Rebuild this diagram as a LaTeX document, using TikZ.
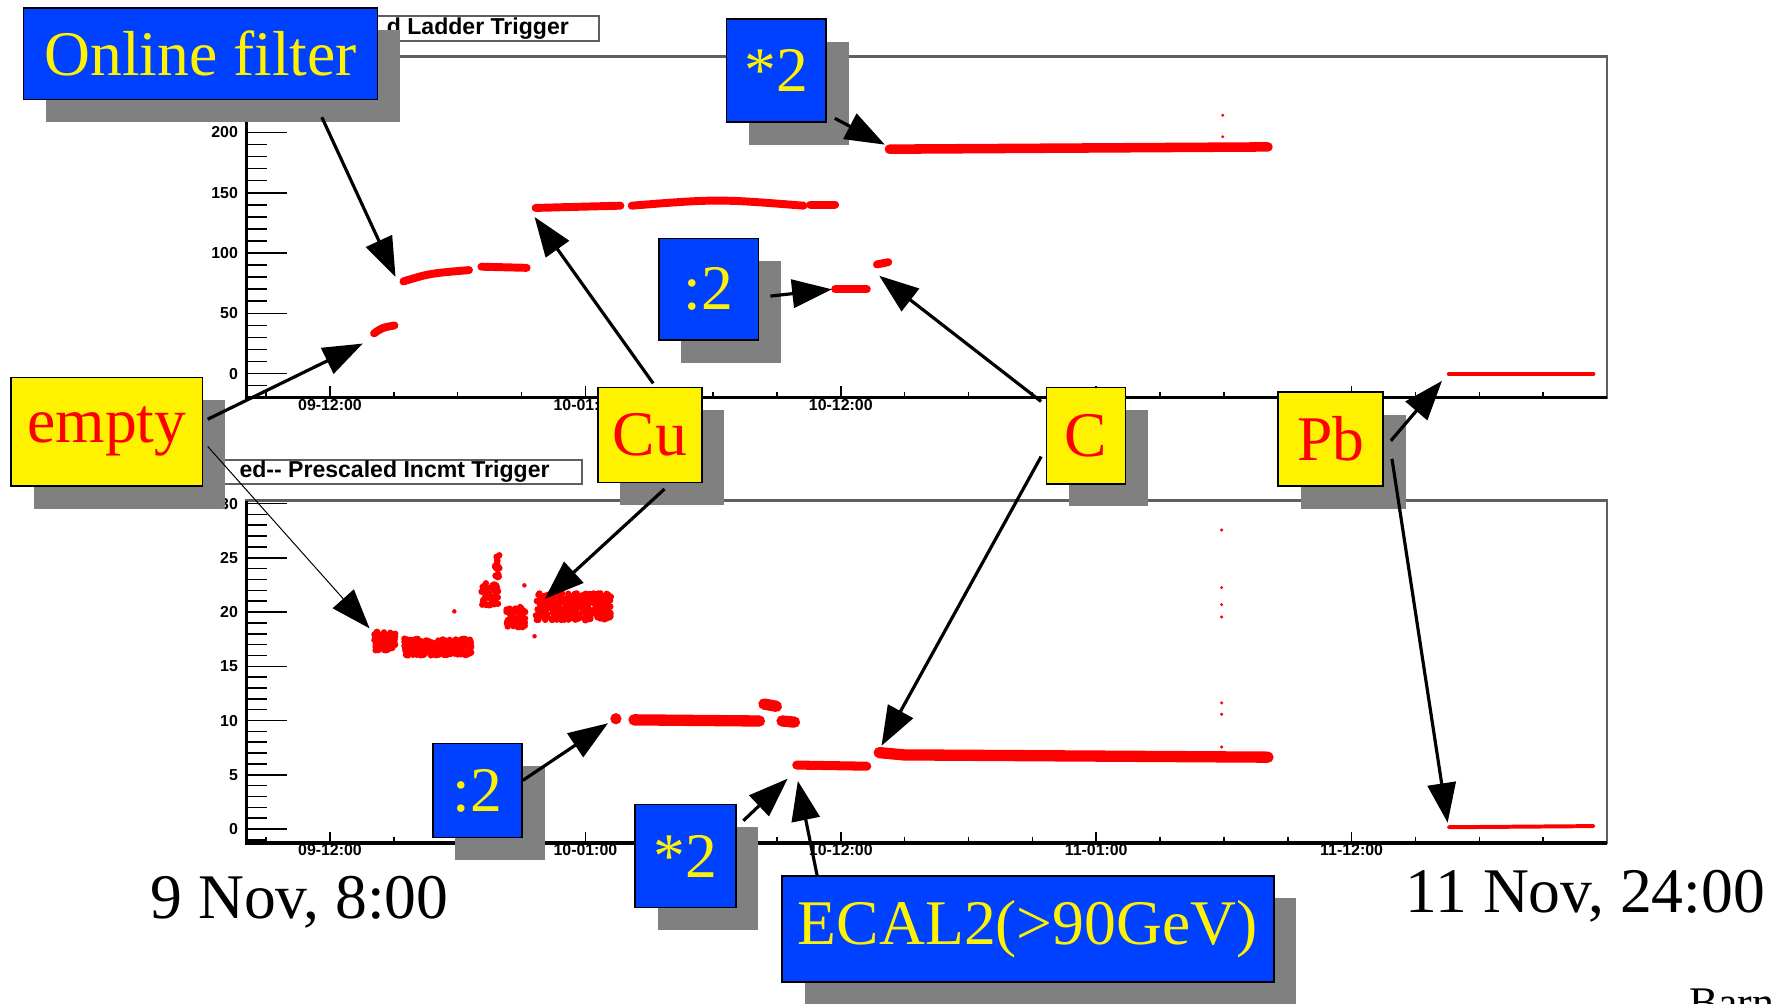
\documentclass[tikz,border=0pt]{standalone}
\usepackage{fontspec}
\setmainfont{Liberation Serif}
\setsansfont{Liberation Sans}
\usetikzlibrary{arrows.meta, shadows, calc}

\definecolor{boxblue}{RGB}{0,64,255}
\definecolor{shadowgray}{RGB}{128,128,128}
\definecolor{framegray}{RGB}{95,95,95}

\tikzset{
  lbl/.style={draw=black, line width=0.4pt, inner sep=0pt, font=\fontsize{16}{18}\selectfont,
    drop shadow={shadow xshift=0.2cm, shadow yshift=-0.2cm, fill=shadowgray, opacity=1}},
  bluebox/.style={lbl, fill=boxblue, text=yellow},
  yellowbox/.style={lbl, fill=yellow, text=red},
  pointer/.style={line width=0.8pt, -{Triangle[length=0.35cm, width=0.25cm]}},
  thinpointer/.style={line width=0.25pt, -{Triangle[length=0.35cm, width=0.25cm]}},
  band/.style={red, line width=#1, line cap=round},
  band/.default=2pt,
  ticklbl/.style={font=\fontsize{4}{4}\sffamily\bfseries, inner sep=0.5pt},
  titletext/.style={font=\fontsize{5.8}{6}\sffamily\bfseries, inner sep=0pt},
  plottitle/.style={draw=framegray, line width=0.5pt, fill=white},
}

\begin{document}
\begin{tikzpicture}[x=0.01cm, y=-0.01cm]
		\useasboundingbox (0,0) rectangle (1568,888);
		\pgfmathsetseed{42}
		%%%%%%%%%%%%% frames and time axes
		\draw[plottitle] (190,14) rectangle (530,36);
		\node[titletext, anchor=east] (titleup) at (504,25) {d Ladder Trigger};
		\draw[plottitle] (150,407) rectangle (515,428);
		\node[titletext, anchor=east] (titledown) at (487,417.5) {ed-{}- Prescaled Incmt Trigger};
		\foreach \top/\bot [count=\p] in {50/352, 443/746} {
			\draw[framegray, line width=0.6pt] (218,\top) rectangle (1422,\bot);
			\draw[line width=0.8pt] (218,\top) -- (218,\bot) -- (1422,\bot);
			\foreach \k in {0,...,20} \draw ({235.5+56.5*\k},\bot) -- ({235.5+56.5*\k},\bot-5);
			\foreach \i in {0,...,4} \draw ({292+226*\i},\bot) -- ({292+226*\i},\bot-10);
		}
		\foreach \lab [count=\i from 0] in {09-12:00,10-01:00,10-12:00}
			\node[ticklbl] (x1-\i) at ({292+226*\i},358) {\lab};
		\foreach \lab [count=\i from 0] in {09-12:00,10-01:00,10-12:00,11-01:00,11-12:00}
			\node[ticklbl] (x2-\i) at ({292+226*\i},752) {\lab};
		%%%%%%%%%%%%% rate axes
		\foreach \v in {-10,0,...,260} \draw (218,{330.6-1.067*\v}) -- (236,{330.6-1.067*\v});
		\foreach \v in {0,50,...,200} {
			\draw (218,{330.6-1.067*\v}) -- (254,{330.6-1.067*\v});
			\node[ticklbl, anchor=east] (yu\v) at (213,{330.6-1.067*\v}) {\v};
		}
		\foreach \v in {-1,0,...,30} \draw (218,{733.6-9.6*\v}) -- (236,{733.6-9.6*\v});
		\foreach \v in {0,5,...,30} {
			\draw (218,{733.6-9.6*\v}) -- (254,{733.6-9.6*\v});
			\node[ticklbl, anchor=east] (yd\v) at (213,{733.6-9.6*\v}) {\v};
		}
		%%%%%%%%%%%%% upper rates
		\draw[band] (331,295) .. controls (338,290) .. (349,288);
		\draw[band] (357,249) .. controls (380,242) .. (415,239);
		\draw[band] (426,236) -- (466,237);
		\draw[band] (474,184) -- (549,182);
		\draw[band] (559,182) .. controls (635,176) .. (711,182);
		\draw[band] (717,181) -- (739,181);
		\draw[band] (739,256) -- (767,256);
		\draw[band] (776,234) -- (786,232);
		\draw[band=2.4pt] (787,132) -- (1122,130);
		\fill[red] (1082,102) circle (0.015cm) (1082,121) circle (0.015cm);
		\draw[band=1pt] (1282,331) -- (1410,331);
		%%%%%%%%%%%%% lower rates
		\foreach \xa/\xb/\ya/\yb/\n in {331/350/559/576/80, 357/417/565/580/220, 426/441/516/536/60,
				438/442/488/511/20, 448/465/537/555/70, 474/541/525/549/280}
			\foreach \j in {1,...,\n}
				\fill[red] ({\xa+(\xb-\xa)*rnd},{\ya+(\yb-\ya)*rnd}) circle (0.028cm);
		\fill[red] (402,541) circle (0.02cm) (473,563) circle (0.02cm) (464,518) circle (0.02cm);
		\fill[red] (545,636) circle (0.05cm);
		\draw[band=0.1cm] (561,637) -- (672,638);
		\draw[band=0.1cm] (676,623) -- (687,625);
		\draw[band=0.1cm] (692,638) -- (703,639);
		\draw[band=0.08cm] (705,677) -- (767,678);
		\draw[band=0.1cm] (778,666) -- (800,668) -- (1122,670);
		\foreach \yy in {469,520,535,546,622,632,661} \fill[red] (1081,\yy) circle (0.015cm);
		\draw[band=1pt] (1282,732) -- (1410,731);
		%%%%%%%%%%%%% labels
		\node[bluebox, minimum width=3.13cm, minimum height=0.81cm] (online) at (177.5,47.5) {Online filter};
		\node[bluebox, minimum width=0.88cm, minimum height=0.91cm] (timesup) at (687,62.5) {*2};
		\node[bluebox, minimum width=0.88cm, minimum height=0.90cm] (halfup) at (627,256) {:2};
		\node[yellowbox, minimum width=1.69cm, minimum height=0.96cm] (empty) at (94.5,382) {empty};
		\node[yellowbox, minimum width=0.92cm, minimum height=0.84cm] (cu) at (575,385) {Cu};
		\node[yellowbox, minimum width=0.70cm, minimum height=0.85cm] (carbon) at (961,385.5) {C};
		\node[yellowbox, minimum width=0.93cm, minimum height=0.83cm] (pb) at (1177.5,388.5) {Pb};
		\node[bluebox, minimum width=0.79cm, minimum height=0.83cm] (halfdown) at (422.5,699.5) {:2};
		\node[bluebox, minimum width=0.89cm, minimum height=0.91cm] (timesdown) at (606.5,757.5) {*2};
		\node[bluebox, minimum width=4.35cm, minimum height=0.94cm] (ecal) at (909.5,822) {ECAL2(>90GeV)};
		\node[font=\fontsize{16}{18}\selectfont] (daystart) at (265,798) {9 Nov, 8:00};
		\node[font=\fontsize{16}{18}\selectfont] (dayend) at (1403,793) {11 Nov, 24:00};
		\node[font=\fontsize{11}{12}\selectfont, anchor=north west, inner sep=0pt] (author) at (1494,874) {Barn};
		%%%%%%%%%%%%% arrow tips
		\coordinate (t-online) at (350,245);
		\coordinate (t-timesup) at (783,128);
		\coordinate (t-halfup) at (736,256);
		\coordinate (t-carbonup) at (778,244);
		\coordinate (t-cuup) at (473,192);
		\coordinate (t-emptyup) at (321,304);
		\coordinate (t-emptydown) at (327,556);
		\coordinate (t-cudown) at (482,530);
		\coordinate (t-halfdown) at (538,640);
		\coordinate (t-timesdown) at (697,689);
		\coordinate (t-ecal) at (706,691);
		\coordinate (t-carbondown) at (780,660);
		\coordinate (t-pbup) at (1276,337);
		\coordinate (t-pbdown) at (1281,728);
		%%%%%%%%%%%%% arrows
		\draw[pointer] ($(online.south east)+(-50,15)$) to (t-online);
		\draw[pointer] ($(timesup.south east)+(7,-4)$) to (t-timesup);
		\draw[pointer] ($(halfup.east)+(10,6)$) to (t-halfup);
		\draw[pointer] ($(carbon.north west)+(-4,13)$) to (t-carbonup);
		\draw[pointer] ($(cu.north)+(3,-3)$) to (t-cuup);
		\draw[pointer] ($(empty.east)+(4,-11)$) to (t-emptyup);
		\draw[thinpointer] ($(empty.east)+(4,13)$) to (t-emptydown);
		\draw[pointer] ($(cu.south)+(13,5)$) to (t-cudown);
		\draw[pointer] ($(halfdown.east)+(0,-9)$) to (t-halfdown);
		\draw[pointer] ($(timesdown.north east)+(6,15)$) to (t-timesdown);
		\draw[pointer] ($(ecal.north west)+(32,1)$) to (t-ecal);
		\draw[pointer] ($(carbon.west)+(-4,18.5)$) to (t-carbondown);
		\draw[pointer] ($(pb.east)+(6,1.5)$) to (t-pbup);
		\draw[pointer] ($(pb.east)+(7,17.5)$) to (t-pbdown);
\end{tikzpicture}
\end{document}
